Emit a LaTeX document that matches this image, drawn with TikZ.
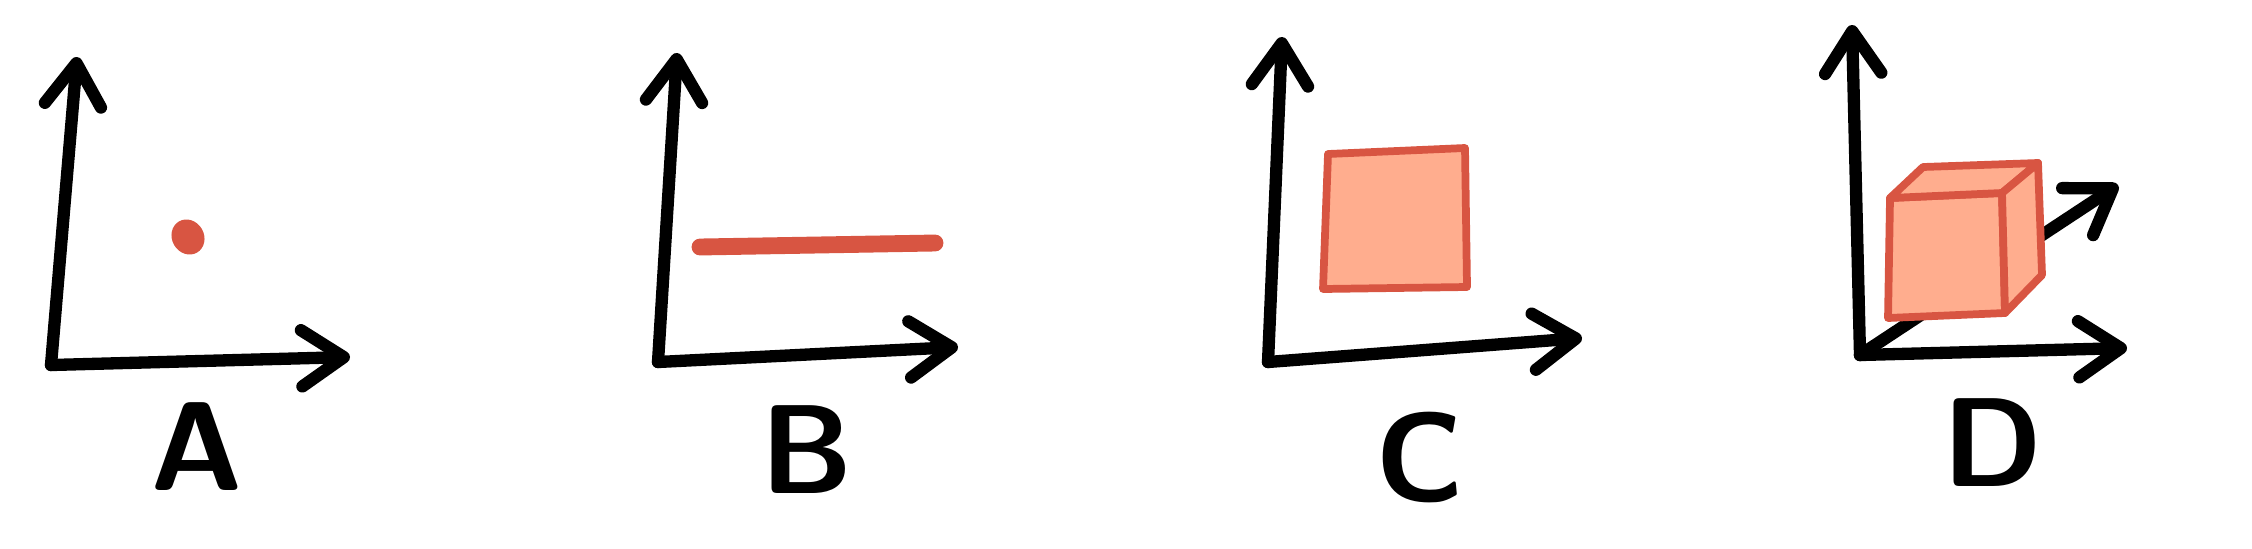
\documentclass[tikz,border=0pt]{standalone}
\usepackage{tikz}
\usetikzlibrary{arrows.meta,calc}
\definecolor{brick}{HTML}{D85542}
\definecolor{salmon}{HTML}{FFAD8E}

\begin{document}
\begin{tikzpicture}[x=0.01cm,y=-0.01cm,font=\fontsize{36}{40}\selectfont\sffamily\bfseries,>={Straight Barb[length=12pt,width=16pt,round]}]
  \tikzset{axisline/.style={->,line width=3.5pt,line cap=round,line join=round},
    redface/.style={draw=brick,fill=salmon,line width=2.2pt,line join=round},
    letter/.style={inner sep=0pt}}
  \useasboundingbox (0,0) rectangle (2252,548);
  % A: a point
  \coordinate (oA) at (51,365);
  \draw[axisline] (oA) -- (77,57);
  \draw[axisline] (oA) -- (350,357);
  \fill[brick,rotate around={30:(188,237)}] (188,237) ellipse [x radius=16,y radius=18];
  \node[letter] (labA) at (197,447) {A};
  % B: a line
  \coordinate (oB) at (658,362);
  \draw[axisline] (oB) -- (677,53);
  \draw[axisline] (oB) -- (958,347);
  \draw[brick,line width=4.8pt,line cap=round] (700,247) -- (935,243);
  \node[letter] (labB) at (807,450) {B};
  % C: a square
  \coordinate (oC) at (1268,362);
  \draw[axisline] (oC) -- (1282,37);
  \draw[axisline] (oC) -- (1582,338);
  \draw[redface] (1328,154) -- (1465,148) -- (1467,287) -- (1323,289) -- cycle;
  \node[letter] (labC) at (1420,457) {C};
  % D: a cube
  \coordinate (oD) at (1860,355);
  \draw[axisline] (oD) -- (1852,25);
  \draw[axisline] (oD) -- (2127,348);
  \draw[axisline] (oD) -- (2118,185);
  \draw[redface] (1890,198) -- (2002,193) -- (2005,313) -- (1888,318) -- cycle;
  \draw[redface] (1890,198) -- (1923,167) -- (2038,163) -- (2002,193) -- cycle;
  \draw[redface] (2002,193) -- (2038,163) -- (2042,275) -- (2005,313) -- cycle;
  \node[letter] (labD) at (1993,443) {D};
\end{tikzpicture}
\end{document}
